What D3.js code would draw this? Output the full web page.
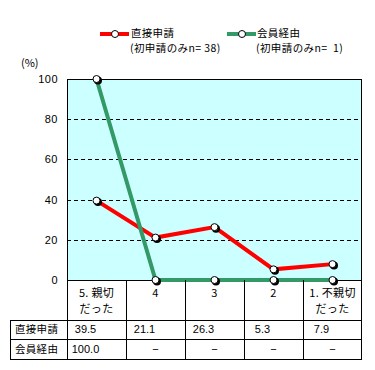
<!DOCTYPE html>
<html><head><meta charset="utf-8">
<script src="https://cdn.jsdelivr.net/npm/d3@7"></script>
<style>body{margin:0;background:#fff}svg{display:block}</style>
</head><body>
<script>
const categories = [["5. 親切","だった"],["4"],["3"],["2"],["1. 不親切","だった"]];
const seriesNames = ["直接申請","会員経由"];
const seriesSub = ["(初申請のみn= 38)","(初申請のみn=  1)"];
const directValues = [39.5, 21.1, 26.3, 5.3, 7.9];
const memberValues = [100, 0, 0, 0, 0];
const directLabels = ["39.5","21.1","26.3","5.3","7.9"];
const memberLabels = ["100.0","−","−","−","−"];
const yTicks = [0,20,40,60,80,100];

const W=375,H=370;
const L=67,R=362,T=79,B=280;
const svg=d3.select("body").append("svg").attr("width",W).attr("height",H);
const jp="'Noto Sans CJK JP', sans-serif";
const num="'Liberation Sans', Arial, sans-serif";
const colors=["#ff0000","#339966"];

const x=d3.scaleBand().domain(d3.range(categories.length)).range([L,R]).padding(0);
const cx=i=>x(i)+x.bandwidth()/2;
const y=d3.scaleLinear().domain([0,100]).range([B,T]);

svg.append("rect").attr("x",L).attr("y",T).attr("width",R-L).attr("height",B-T).attr("fill","#ccffff");
svg.selectAll(".g").data(yTicks.filter(t=>t>0&&t<100)).enter().append("line")
 .attr("x1",L).attr("x2",R).attr("y1",d=>Math.round(y(d))+0.5).attr("y2",d=>Math.round(y(d))+0.5)
 .attr("stroke","#000").attr("stroke-dasharray","4,3").attr("stroke-width",1);
const ya=svg.append("g").attr("transform",`translate(${L},0)`).call(d3.axisLeft(y).tickValues(yTicks).tickSize(0).tickPadding(9));
ya.select(".domain").remove();
ya.selectAll("text").attr("font-family",num).attr("font-size",11).attr("fill","#000").attr("letter-spacing",0.5);
svg.append("text").attr("x",21).attr("y",67).attr("font-family",jp).attr("font-size",11).text("(%)");
svg.append("rect").attr("x",L+0.5).attr("y",T+0.5).attr("width",R-L-1).attr("height",B-T).attr("fill","none").attr("stroke","#000");

const line=d3.line().x((d,i)=>cx(i)).y(d=>y(d));
[directValues,memberValues].forEach((vals,k)=>{
  svg.append("path").datum(vals).attr("d",line).attr("fill","none").attr("stroke",colors[k]).attr("stroke-width",4);
});
[directValues,memberValues].forEach((vals,k)=>{
  const g=svg.append("g");
  g.selectAll(".s").data(vals).enter().append("circle").attr("cx",(d,i)=>cx(i)+1.5).attr("cy",d=>y(d)+1.5).attr("r",4).attr("fill","#000");
  g.selectAll(".m").data(vals).enter().append("circle").attr("cx",(d,i)=>cx(i)).attr("cy",d=>y(d)).attr("r",3.5).attr("fill","#fff").attr("stroke","#000").attr("stroke-width",1);
});

const lg=[{x:100,tx:131},{x:227,tx:257}];
lg.forEach((p,k)=>{
  svg.append("line").attr("x1",p.x).attr("x2",p.x+29).attr("y1",34).attr("y2",34).attr("stroke",colors[k]).attr("stroke-width",4);
  svg.append("circle").attr("cx",p.x+15).attr("cy",34).attr("r",3.5).attr("fill","#fff").attr("stroke","#000");
  svg.append("text").attr("x",p.tx).attr("y",37).attr("font-family",jp).attr("font-size",10.5).attr("letter-spacing",0.3).text(seriesNames[k]);
  svg.append("text").attr("x",p.tx-1).attr("y",51.5).attr("font-family",jp).attr("font-size",10.5).attr("letter-spacing",0.4).attr("xml:space","preserve").text(seriesSub[k]);
});

const tL=10,r1=320,r2=339,tB=359;
const tg=svg.append("g").attr("stroke","#000").attr("stroke-width",1).attr("fill","none");
tg.append("line").attr("x1",L+0.5).attr("x2",L+0.5).attr("y1",B).attr("y2",tB+0.5);
tg.append("line").attr("x1",R-0.5).attr("x2",R-0.5).attr("y1",B).attr("y2",tB+0.5);
d3.range(1,categories.length).forEach(i=>{
  tg.append("line").attr("x1",x(i)+0.5).attr("x2",x(i)+0.5).attr("y1",B).attr("y2",tB+0.5);
});
tg.append("line").attr("x1",tL+0.5).attr("x2",tL+0.5).attr("y1",r1).attr("y2",tB+0.5);
[r1,r2,tB].forEach(yy=>tg.append("line").attr("x1",tL).attr("x2",R).attr("y1",yy+0.5).attr("y2",yy+0.5));

categories.forEach((c,i)=>{
  c.forEach((s,j)=>{
    svg.append("text").attr("x",cx(i)).attr("y",297+j*15.5).attr("text-anchor","middle")
      .attr("font-family",jp).attr("font-size",11).attr("letter-spacing",0.3).text(s);
  });
});
const rowLabels=[directLabels,memberLabels];
rowLabels.forEach((labs,k)=>{
  const yy=k===0?333:353;
  svg.append("text").attr("x",15).attr("y",yy).attr("font-family",jp).attr("font-size",10.5).attr("letter-spacing",0.3).text(seriesNames[k]);
  labs.forEach((s,i)=>{
    const isDash=s==="−";
    svg.append("text").attr("x",isDash?cx(i):cx(i)-11).attr("y",yy-0.5).attr("text-anchor","middle")
      .attr("font-family",num).attr("font-size",11).text(s);
  });
});
</script>
</body></html>
